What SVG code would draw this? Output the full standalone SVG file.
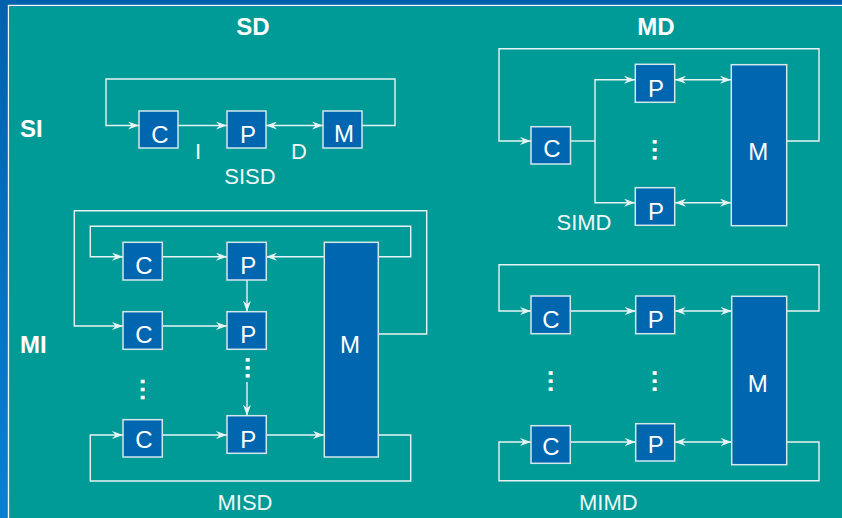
<svg xmlns="http://www.w3.org/2000/svg" width="842" height="518" viewBox="0 0 842 518">
<defs>
<linearGradient id="bg" x1="0" y1="0" x2="0" y2="1">
<stop offset="0" stop-color="#0060AE"/>
<stop offset="1" stop-color="#0880D2"/>
</linearGradient>
<marker id="ah" viewBox="0 0 11 8" refX="11" refY="4" markerWidth="11" markerHeight="8" orient="auto-start-reverse" markerUnits="userSpaceOnUse">
<path d="M0,0 L11,4 L0,8 L3.5,4 z" fill="#E8F4F4"/>
</marker>
<style>
.box{fill:#0066B0;stroke:#D4E8EC;stroke-width:1.5}
.lbl{font-family:"Liberation Sans",Arial,sans-serif;font-size:24px;fill:#FFFFFF;text-anchor:middle}
.hdr{font-family:"Liberation Sans",Arial,sans-serif;font-size:24px;font-weight:bold;fill:#FFFFFF}
.sub{font-family:"Liberation Sans",Arial,sans-serif;font-size:22px;fill:#F0F8F8;text-anchor:middle}
.dots{font-family:"Liberation Sans",Arial,sans-serif;font-size:29px;fill:#FFFFFF;stroke:#FFFFFF;stroke-width:0.6}
.ln{fill:none;stroke:#E8F4F4;stroke-width:1.4}
.a{marker-end:url(#ah)}
.b{marker-start:url(#ah);marker-end:url(#ah)}
</style>
</defs>
<rect x="0" y="0" width="842" height="518" fill="url(#bg)"/>
<rect x="8.5" y="5.5" width="840" height="520" fill="none" stroke="#F4F8FC" stroke-width="1.4"/>
<rect x="10" y="6.5" width="832" height="511.5" fill="#009A97"/>

<text class="hdr" x="253" y="35" text-anchor="middle">SD</text>
<text class="hdr" x="656" y="35" text-anchor="middle">MD</text>
<text class="hdr" x="20" y="137">SI</text>
<text class="hdr" x="20" y="353">MI</text>

<g id="connectors">
<!-- SISD -->
<path class="ln a" d="M362,125.5 H395 V79 H106 V125.5 H139"/>
<path class="ln a" d="M178,125.5 H227"/>
<path class="ln b" d="M266,125.5 H323"/>
<!-- SIMD -->
<path class="ln a" d="M787,141 H819 V48.7 H499 V141 H531"/>
<path class="ln" d="M570.5,141 H595"/>
<path class="ln a" d="M595,141 V79.7 H635"/>
<path class="ln a" d="M595,141 V202.7 H635"/>
<path class="ln b" d="M675,79.7 H731"/>
<path class="ln b" d="M675,202.7 H731"/>
<!-- MISD -->
<path class="ln a" d="M378,334 H426.7 V210.7 H74.3 V326 H123"/>
<path class="ln a" d="M378,256.7 H410.7 V226.3 H90.3 V256.7 H123"/>
<path class="ln a" d="M162,256.7 H227"/>
<path class="ln a" d="M324,256.7 H266"/>
<path class="ln a" d="M247,280 V311.7"/>
<path class="ln a" d="M162,326 H227"/>
<path class="ln a" d="M247,382 V415.7"/>
<path class="ln a" d="M162,435 H227"/>
<path class="ln a" d="M266,435 H324"/>
<path class="ln a" d="M378,435 H410.7 V481 H90.3 V435 H123"/>
<!-- MIMD -->
<path class="ln a" d="M786.7,311 H819 V264.7 H499 V311 H531"/>
<path class="ln a" d="M570.3,311 H635.7"/>
<path class="ln b" d="M674.7,311 H731.7"/>
<path class="ln a" d="M786.7,442 H819 V480.7 H499 V442 H531"/>
<path class="ln a" d="M570.3,442 H635.7"/>
<path class="ln b" d="M674.7,442 H731.7"/>
</g>

<!-- SISD -->
<g id="sisd-c"><rect class="box" x="139" y="111" width="39" height="37"/><text class="lbl" x="160" y="142.5">C</text></g>
<g id="sisd-p"><rect class="box" x="227" y="111" width="39" height="37"/><text class="lbl" x="248" y="143">P</text></g>
<g id="sisd-m"><rect class="box" x="323" y="111" width="39" height="37"/><text class="lbl" x="344" y="141.5">M</text></g>
<text class="sub" x="198" y="159">I</text>
<text class="sub" x="299" y="159">D</text>
<text class="sub" x="250" y="184">SISD</text>

<!-- SIMD -->
<g id="simd-c"><rect class="box" x="531" y="126.7" width="39.5" height="37.3"/><text class="lbl" x="552" y="157.3">C</text></g>
<g id="simd-p1"><rect class="box" x="635.3" y="64.3" width="39.4" height="38"/><text class="lbl" x="656" y="96.7">P</text></g>
<g id="simd-p2"><rect class="box" x="635.3" y="187.7" width="39.4" height="37.6"/><text class="lbl" x="656" y="220">P</text></g>
<g id="simd-m"><rect class="box" x="731.3" y="64.7" width="55.4" height="161"/><text class="lbl" x="758.3" y="160">M</text></g>
<text class="dots" transform="translate(653,137.7) rotate(90)">...</text>
<text class="sub" x="584" y="230">SIMD</text>

<!-- MISD -->
<g id="misd-c1"><rect class="box" x="123" y="242.3" width="39.3" height="37.7"/><text class="lbl" x="144" y="274">C</text></g>
<g id="misd-p1"><rect class="box" x="227" y="242.3" width="39.3" height="37.7"/><text class="lbl" x="248.3" y="274">P</text></g>
<g id="misd-c2"><rect class="box" x="123" y="311.7" width="39.3" height="37.6"/><text class="lbl" x="144" y="343.3">C</text></g>
<g id="misd-p2"><rect class="box" x="227" y="311.7" width="39.3" height="37.6"/><text class="lbl" x="248.3" y="343.3">P</text></g>
<g id="misd-c3"><rect class="box" x="123" y="419.7" width="39.3" height="37.3"/><text class="lbl" x="144" y="448.3">C</text></g>
<g id="misd-p3"><rect class="box" x="227" y="415.7" width="39.3" height="37.6"/><text class="lbl" x="248.3" y="448.3">P</text></g>
<g id="misd-m"><rect class="box" x="324.3" y="242.3" width="54" height="214.7"/><text class="lbl" x="350" y="353">M</text></g>
<text class="dots" transform="translate(245.5,355.7) rotate(90)">...</text>
<text class="dots" transform="translate(140.5,377.4) rotate(90)">...</text>
<text class="sub" x="245" y="510">MISD</text>

<!-- MIMD -->
<g id="mimd-c1"><rect class="box" x="531" y="296" width="39.3" height="37.7"/><text class="lbl" x="551" y="328.3">C</text></g>
<g id="mimd-p1"><rect class="box" x="635.7" y="296" width="39" height="37.7"/><text class="lbl" x="655.7" y="328.3">P</text></g>
<g id="mimd-c2"><rect class="box" x="531" y="425.7" width="39.3" height="37.6"/><text class="lbl" x="551" y="455">C</text></g>
<g id="mimd-p2"><rect class="box" x="635.7" y="423.7" width="39" height="37.3"/><text class="lbl" x="655.7" y="453.3">P</text></g>
<g id="mimd-m"><rect class="box" x="731.7" y="296.3" width="55" height="168.4"/><text class="lbl" x="757.7" y="392">M</text></g>
<text class="dots" transform="translate(548.5,369.1) rotate(90)">...</text>
<text class="dots" transform="translate(652.7,369.1) rotate(90)">...</text>
<text class="sub" x="608.3" y="510">MIMD</text>
</svg>
